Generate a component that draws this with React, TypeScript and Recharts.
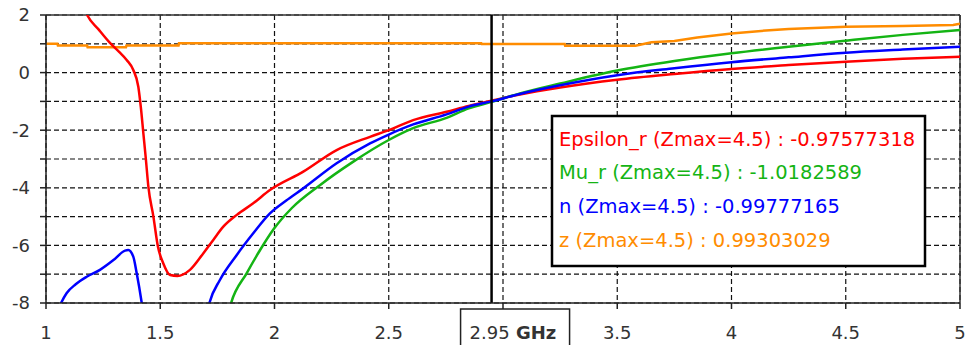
import React from 'react';
import { LineChart, Line, XAxis, YAxis, CartesianGrid, ReferenceLine } from 'recharts';

// Epsilon_r
const epsFreq = [1.15, 1.18, 1.23, 1.28, 1.32, 1.353, 1.382, 1.404, 1.415, 1.426, 1.437, 1.448, 1.47, 1.49, 1.513, 1.543, 1.575, 1.63, 1.688, 1.732, 1.776, 1.835, 1.907, 1.98, 2.126, 2.272, 2.418, 2.5, 2.607, 2.753, 2.85, 2.95, 3.074, 3.25, 3.5, 3.75, 4.0, 4.25, 4.5, 4.75, 5.0];
const epsVal = [2.6, 2.0, 1.5, 1.03, 0.72, 0.44, 0.09, -0.49, -1.2, -2.1, -3.0, -3.96, -5.0, -6.05, -6.62, -7.03, -7.06, -6.85, -6.28, -5.81, -5.35, -4.94, -4.54, -4.08, -3.44, -2.69, -2.23, -2.0, -1.65, -1.36, -1.16, -0.976, -0.76, -0.52, -0.25, -0.05, 0.125, 0.26, 0.38, 0.48, 0.55];

// Mu_r
const muFreq = [1.79, 1.81, 1.878, 1.937, 1.995, 2.075, 2.2, 2.345, 2.5, 2.607, 2.753, 2.85, 2.95, 3.074, 3.25, 3.5, 3.75, 4.0, 4.25, 4.5, 4.75, 5.0];
const muVal = [-8.6, -8.0, -6.97, -6.16, -5.45, -4.71, -3.9, -3.09, -2.34, -1.93, -1.57, -1.24, -1.018, -0.72, -0.38, 0.07, 0.4, 0.67, 0.9, 1.11, 1.31, 1.48];

// n
const nFreq = [1.04, 1.066, 1.09, 1.13, 1.178, 1.236, 1.295, 1.346, 1.36, 1.382, 1.397, 1.419, 1.43, 1.5, 1.7, 1.715, 1.761, 1.835, 1.907, 1.98, 2.05, 2.126, 2.272, 2.418, 2.5, 2.607, 2.753, 2.85, 2.95, 3.074, 3.25, 3.5, 3.75, 4.0, 4.25, 4.5, 4.75, 5.0];
const nVal: (number | null)[] = [-8.5, -8.0, -7.66, -7.35, -7.09, -6.85, -6.51, -6.18, -6.16, -6.39, -6.97, -8.0, -8.6, null, -8.5, -8.0, -7.2, -6.33, -5.58, -4.89, -4.45, -4.02, -3.15, -2.46, -2.15, -1.8, -1.45, -1.18, -0.998, -0.74, -0.44, -0.09, 0.15, 0.36, 0.53, 0.69, 0.8, 0.9];

// z
const zFreq = [1.0, 1.05, 1.052, 1.18, 1.182, 1.35, 1.352, 1.58, 1.582, 2.905, 2.907, 3.27, 3.272, 3.58, 3.65, 3.75, 3.85, 4.0, 4.15, 4.25, 4.5, 4.75, 4.97, 5.0];
const zVal = [1.0, 1.0, 0.94, 0.94, 0.88, 0.88, 0.94, 0.94, 1.02, 1.02, 0.99, 0.99, 0.935, 0.935, 1.05, 1.1, 1.22, 1.36, 1.46, 1.51, 1.59, 1.62, 1.65, 1.7];

const xTicks = [1, 1.5, 2, 2.5, 3, 3.5, 4, 4.5, 5];
const yTicks = [-8, -7, -6, -5, -4, -3, -2, -1, 0, 1, 2];
const markerFreq = 2.95;
const markerUnit = 'GHz';

const legendLabels = ['Epsilon_r (Zmax=4.5)', 'Mu_r (Zmax=4.5)', 'n (Zmax=4.5)', 'z (Zmax=4.5)'];
const legendValues = ['-0.97577318', '-1.0182589', '-0.99777165', '0.99303029'];

const RED = '#ff0000';
const GREEN = '#14b414';
const BLUE = '#0000ff';
const ORANGE = '#ff8c00';
const legendColors = [RED, GREEN, BLUE, ORANGE];

const zip = (xs: number[], ys: (number | null)[]) => xs.map((x, i) => ({ x, y: ys[i] }));
const epsData = zip(epsFreq, epsVal);
const muData = zip(muFreq, muVal);
const nData = zip(nFreq, nVal);
const zData = zip(zFreq, zVal);

const FONT = 'DejaVu Sans';

const YTick = (props: any) => {
  const { x, y, payload } = props;
  if (payload.value % 2 !== 0) return <g />;
  return (
    <text x={x} y={y} dy="0.36em" textAnchor="end" fontFamily={FONT} fontSize={18} fill="#333">
      {payload.value}
    </text>
  );
};

const XTick = (props: any) => {
  const { x, y, payload } = props;
  if (payload.value === 3) return <g />;
  return (
    <text x={x} y={y} dy="0.71em" textAnchor="middle" fontFamily={FONT} fontSize={18} fill="#333">
      {payload.value}
    </text>
  );
};

const MarkerLabel = (props: any) => {
  const vb = props.viewBox || {};
  const x = vb.x;
  const bottom = Math.max(vb.y, vb.y + vb.height);
  return (
    <g>
      <rect x={x - 31} y={bottom + 6} width={109} height={44} fill="#fff" stroke="#222" strokeWidth={1.5} />
      <text x={x - 22} y={bottom + 36} fontFamily={FONT} fontSize={18} fill="#333">
        {markerFreq}
        <tspan fontWeight="bold"> {markerUnit}</tspan>
      </text>
    </g>
  );
};

export default function App() {
  return (
    <div style={{ position: 'absolute', left: 0, top: 0, width: 968, height: 345, background: '#fff' }}>
      <LineChart width={968} height={345} margin={{ top: 15, right: 8, bottom: 0, left: 0 }}>
        <CartesianGrid stroke="#111" strokeDasharray="5 3" strokeWidth={1.2} />
        <XAxis
          dataKey="x"
          type="number"
          domain={[1, 5]}
          ticks={xTicks}
          allowDataOverflow
          height={42}
          tickSize={6}
          tickMargin={17}
          tick={<XTick />}
          stroke="#222"
          strokeWidth={1.5}
        />
        <YAxis
          type="number"
          domain={[-8, 2]}
          ticks={yTicks}
          allowDataOverflow
          width={46}
          tickSize={6}
          tickMargin={10}
          tick={<YTick />}
          stroke="#222"
          strokeWidth={1.5}
        />
        <ReferenceLine y={2} stroke="#333" strokeWidth={1.5} />
        <ReferenceLine x={5} stroke="#333" strokeWidth={1.5} />
        <Line data={zData} dataKey="y" stroke={ORANGE} strokeWidth={2.5} dot={false} isAnimationActive={false} type="linear" />
        <Line data={epsData} dataKey="y" stroke={RED} strokeWidth={2.5} dot={false} isAnimationActive={false} type="monotone" />
        <Line data={muData} dataKey="y" stroke={GREEN} strokeWidth={2.5} dot={false} isAnimationActive={false} type="monotone" />
        <Line data={nData} dataKey="y" stroke={BLUE} strokeWidth={2.5} dot={false} isAnimationActive={false} type="monotone" connectNulls={false} />
        <ReferenceLine x={markerFreq} stroke="#000" strokeWidth={2.5} label={<MarkerLabel />} />
      </LineChart>
      <svg width={968} height={345} style={{ position: 'absolute', left: 0, top: 0, pointerEvents: 'none' }}>
        <rect x={552} y={116} width={373} height={150} fill="#fff" stroke="#000" strokeWidth={2.5} />
        {legendLabels.map((label, i) => (
          <text key={label} x={559} y={145.5 + i * 33.8} fontFamily={FONT} fontSize={19.5} fill={legendColors[i]}>
            {label} : {legendValues[i]}
          </text>
        ))}
      </svg>
    </div>
  );
}
